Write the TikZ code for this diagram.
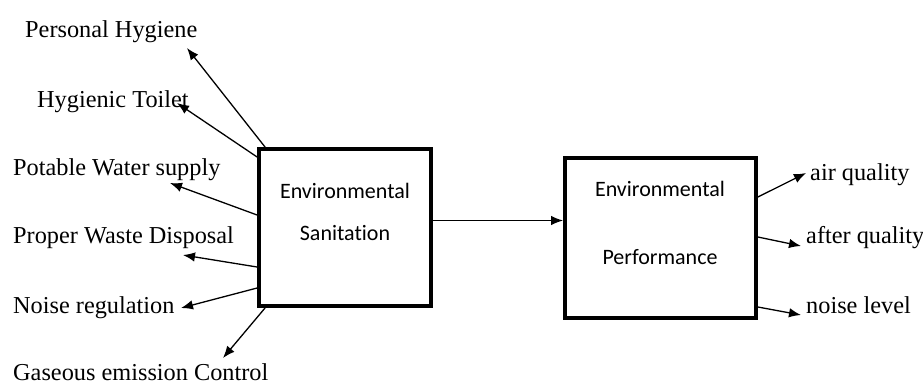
\documentclass[tikz,border=0pt]{standalone}
\usepackage{fontspec}
\setmainfont{Liberation Serif}
\newfontfamily\boxfont[Ligatures=NoCommon]{Carlito}
\usetikzlibrary{arrows.meta}

\begin{document}
\begin{tikzpicture}[x=1pt,y=-1pt,
  lbl/.style={anchor=base west, inner sep=0pt, font=\fontsize{24.3}{28}\selectfont},
  boxtxt/.style={anchor=base, inner sep=0pt, font=\boxfont\fontsize{22}{26}\selectfont},
  block/.style={draw, line width=3.8pt, inner sep=0pt},
  arr/.style={-{Latex[length=12pt,width=9.5pt]}, line width=1.3pt}]
\useasboundingbox (0,0) rectangle (923,384);

% the two boxes
\node [block, minimum width=172pt, minimum height=157pt] (san) at (345,227.5) {};
\node [block, minimum width=191pt, minimum height=160pt] (perf) at (660.5,238) {};
\node [boxtxt] (santop) at (345,198) {Environmental};
\node [boxtxt] (sanbot) at (345,240) {Sanitation};
\node [boxtxt] (perftop) at (660,196) {Environmental};
\node [boxtxt] (perfbot) at (660,264) {Performance};

% left labels
\node [lbl] (ph) at (25,37) {Personal Hygiene};
\node [lbl] (ht) at (37,107) {Hygienic Toilet};
\node [lbl] (pw) at (13,175) {Potable Water supply};
\node [lbl] (wd) at (13,243) {Proper Waste Disposal};
\node [lbl] (nr) at (13,313) {Noise regulation};
\node [lbl] (ge) at (13,380) {Gaseous emission Control};

% right labels
\node [lbl] (aq) at (810,180) {air quality};
\node [lbl] (fq) at (806,243) {after quality};
\node [lbl] (nl) at (806,313) {noise level};

% arrow tips
\coordinate (phtip) at (187,48);
\coordinate (httip) at (177,103);
\coordinate (pwtip) at (170,183);
\coordinate (wdtip) at (183,255);
\coordinate (nrtip) at (181,308);
\coordinate (getip) at (223,358);
\coordinate (aqtip) at (806,173);
\coordinate (fqtip) at (801,246);
\coordinate (nltip) at (801,315);

\draw [arr] ([xshift=8pt]san.north west) -- (phtip);
\draw [arr] (san.west |- 0,157) -- (httip);
\draw [arr] (san.west |- 0,215) -- (pwtip);
\draw [arr] (san.west |- 0,267) -- (wdtip);
\draw [arr] (san.west |- 0,288) -- (nrtip);
\draw [arr] ([xshift=8pt]san.south west) -- (getip);

\draw [arr] ([yshift=7pt]san.east) -- (perf.west |- 0,220.5);

\draw [arr] (perf.east |- 0,197) -- (aqtip);
\draw [arr] (perf.east |- 0,237) -- (fqtip);
\draw [arr] (perf.east |- 0,307) -- (nltip);
\end{tikzpicture}
\end{document}
